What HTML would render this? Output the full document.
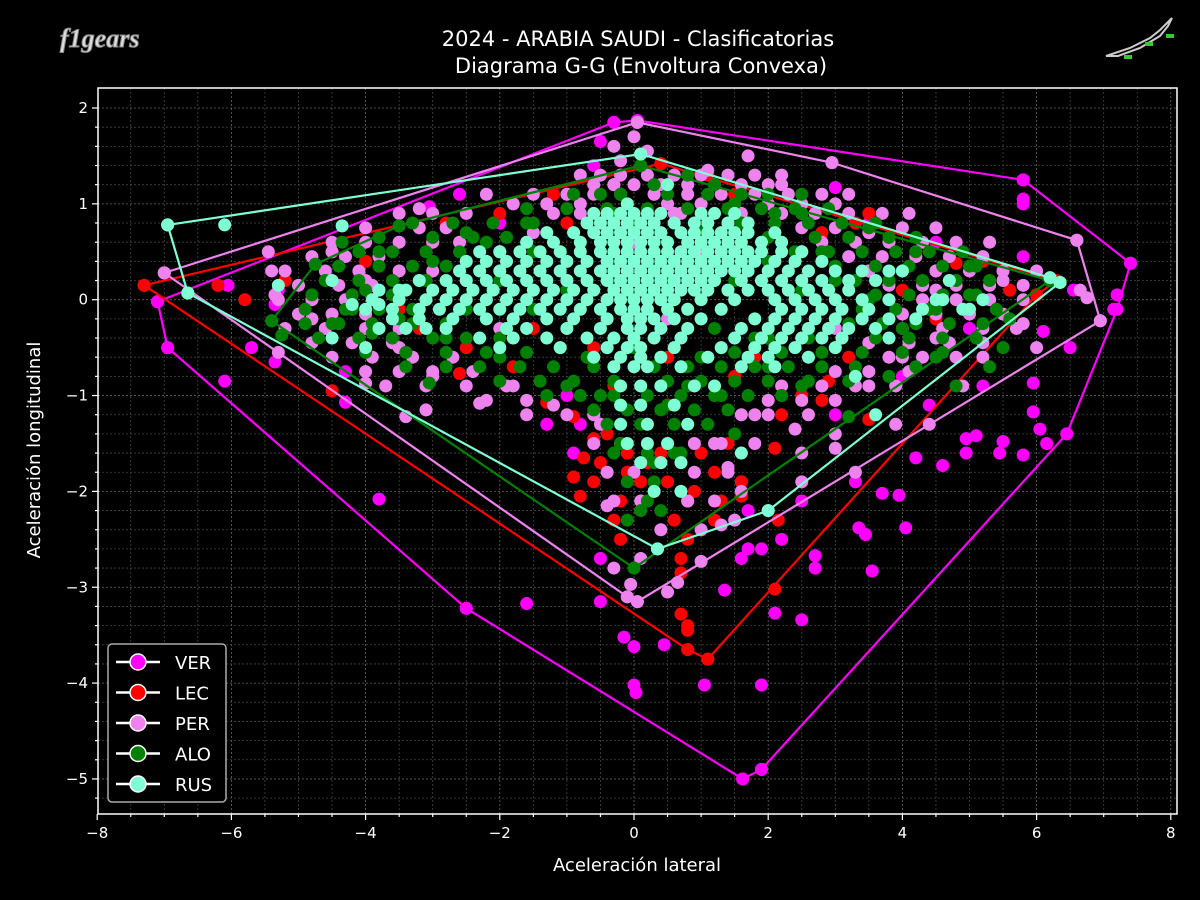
<!DOCTYPE html>
<html><head><meta charset="utf-8"><style>
body{margin:0;background:#000;}
svg{display:block;font-family:"DejaVu Sans","Liberation Sans",sans-serif;}
</style></head><body>
<svg id="chart" width="1200" height="900" viewBox="0 0 1200 900">
<rect width="1200" height="900" fill="#000"/>
<text x="638" y="46" fill="#fff" font-size="21" text-anchor="middle">2024 - ARABIA SAUDI - Clasificatorias</text>
<text x="641" y="73" fill="#fff" font-size="21" text-anchor="middle">Diagrama G-G (Envoltura Convexa)</text>
<text x="60" y="47" fill="#ddd" stroke="#888" stroke-width="1" font-size="26" font-style="italic" font-weight="bold" font-family="Liberation Serif,serif">f1gears</text>
<g><path d="M1106,56 L1130,48 L1150,38 L1160,30 L1168,22 L1172,18 L1168,26 L1160,36 L1140,48 L1118,56 Z" fill="none" stroke="#ccc" stroke-width="2"/><rect x="1124" y="55" width="8" height="4" fill="#3c3"/><rect x="1145" y="42" width="8" height="4" fill="#3c3"/><rect x="1166" y="34" width="8" height="4" fill="#3c3"/></g>
<g id="grid"></g>
<g id="marks"></g>
<g id="axes"></g>
<text x="637" y="871" fill="#fff" font-size="18" text-anchor="middle">Aceleración lateral</text>
<text x="40" y="450" fill="#fff" font-size="18" text-anchor="middle" transform="rotate(-90 40 450)">Aceleración longitudinal</text>
<g id="legend"></g>
</svg>
<script>
const drivers=["VER","LEC","PER","ALO","RUS"];
const colors=["#ff00ff","#ff0000","#ee82ee","#008000","#7fffd4"];
const xTicks=[-8,-6,-4,-2,0,2,4,6,8];
const yTicks=[2,1,0,-1,-2,-3,-4,-5];
const ptsVER=[[-3.8,-2.08],[-1.6,-3.17],[-0.5,-3.15],[-0.15,-3.52],[0,-3.62],[0,-4.02],[0.03,-4.1],[0.45,-3.6],[1.05,-4.02],[1.35,-3.03],[1.9,-4.02],[2.1,-3.27],[2.5,-3.34],[2.7,-2.67],[3.35,-2.38],[3.45,-2.45],[3.55,-2.83],[3.7,-2.02],[3.95,-2.04],[4.05,-2.38],[4.2,-1.65],[4.6,-1.73],[4.95,-1.6],[4.95,-1.45],[5.1,-1.42],[5.45,-1.6],[5.5,-1.48],[5.8,-1.62],[5.95,-1.17],[6.05,-1.35],[6.15,-1.5],[5.95,-0.87],[6.5,-0.5],[6.55,0.1],[6.1,-0.33],[5.8,1.0],[5.8,1.05],[5.8,0.45],[7.2,0.05],[7.15,-0.1],[3.0,1.17],[2.5,0.9],[-0.3,1.85],[-0.5,1.65],[-6.1,-0.85],[-6.2,0.15],[-6.05,0.15],[-5.7,-0.5],[-5.35,-0.65],[-4.3,-1.07],[-5.35,0.05],[-5.35,-0.05],[-5.3,0.1],[-4.3,-0.75],[-3.05,0.97],[-2.6,1.1],[2.7,-2.8],[3.3,-1.9],[5.2,-0.9],[4.4,-1.1],[2.5,-2.1],[1.7,-2.6],[1.6,-2.7],[1.9,-2.6],[-0.5,-2.7],[1.62,-5.0],[1.9,-4.9],[-2.5,-3.22],[-6.95,-0.5],[-7.1,-0.02],[6.45,-1.4],[7.4,0.38],[5.8,1.25],[0.05,1.87],[-0.8,-1.3],[-1,-1.0],[3,-1.2],[4,-0.8],[5,-0.3],[5.5,0.3],[4.5,0.6],[3.5,0.8],[-4.5,0.5],[-3.5,0.6],[-2,0.8],[-0.6,1.4],[-0.2,1.3],[0.6,1.3],[-1.3,-1.3],[-0.9,-1.6],[1.6,-1.9],[1.7,-2.2],[2.2,-2.5]];
const ptsLEC=[[-5.8,0.0],[-4.5,-0.95],[-2.6,-0.77],[-1.3,-1.07],[-0.9,-1.22],[-0.9,-1.85],[-0.8,-2.05],[-0.75,-1.65],[-0.6,-1.45],[-0.3,-2.3],[0.7,-2.7],[0.7,-2.85],[0.8,-3.4],[0.8,-3.45],[0.7,-3.28],[1.1,-3.75],[0.8,-3.65],[1.2,-2.3],[1.6,-1.9],[1.6,-2.05],[2.1,-1.55],[2.1,-3.02],[2.15,-2.3],[2.2,-1.2],[2.8,-1.05],[3.5,-1.25],[2.9,-0.85],[-0.2,-1.5],[-0.1,-1.8],[0.1,-1.9],[0.3,-2.0],[0.2,-1.3],[0.5,-1.1],[-0.3,-0.9],[-6.2,0.15],[-7.3,0.15],[-2.8,0.8],[-3.8,0.35],[4.8,0.38],[5.6,0.1],[6.0,0.05],[4.0,0.1],[3.3,0.8],[3.5,0.9],[1.1,1.3],[0.4,1.42],[-1.2,1.1],[-0.6,-0.5],[0.5,-0.6],[1.5,-0.8],[-2.5,-0.5],[-3.5,-0.1],[-0.5,-1.7],[0.4,-1.6],[-0.2,-2.1],[0.6,-2.3],[1.4,-1.5],[-1.5,-0.3],[2.5,-0.4],[-4,0.4],[-3,0.6],[-2,0.9],[-0.4,-1.4],[-0.1,-1.6],[0.2,-1.7],[0.5,-1.9],[0.9,-2.0],[1.0,-1.6],[1.2,-1.8],[-0.6,-1.9],[-0.2,-2.5],[0.1,-2.2],[1.3,-2.1],[0.8,-2.5],[-1.0,0.8],[1.5,1.1],[2.2,0.9],[2.8,0.7],[4.2,0.5],[5.2,0.4],[-4.5,0.5],[-5.2,0.2],[-3.2,-0.3],[-1.8,-0.7],[1.8,-0.6],[2.5,-1.0],[3.2,-0.6],[4.5,-0.2]];
const ptsPER=[[-7,0.28],[-5.45,0.5],[-5.4,0.3],[-5.35,0.05],[-5.3,-0.55],[-4,-0.87],[-3.4,-1.22],[-3.1,-1.15],[-2.3,-1.08],[-1.8,-0.9],[-1.2,-1.1],[-0.4,-2.15],[-0.3,-2.8],[-0.1,-3.1],[0.05,-3.15],[-0.05,-2.97],[0.1,-2.7],[0.5,-3.05],[0.65,-2.95],[1.0,-2.73],[1.0,-2.4],[1.3,-2.35],[1.5,-2.3],[1.4,-1.75],[2.5,-1.9],[2.4,-1.35],[2.5,-1.6],[3.0,-1.4],[3.0,-1.55],[3.3,-1.8],[3.9,-1.3],[4.4,-1.3],[4.9,-0.9],[5.2,-0.6],[6.0,-0.5],[5.8,-0.25],[6.75,0.02],[6.65,0.1],[6.95,-0.22],[6.6,0.62],[2.95,1.43],[1.7,1.5],[0.05,1.85],[-0.3,1.6],[0,1.7],[0.2,1.55],[-0.2,1.45],[1.1,1.35],[2.2,1.2],[-1.5,1.1],[-3.2,0.95],[-4.5,0.5],[-2,0.5],[0,0.6],[1,0.5],[2.5,0.5],[3.5,0.3],[4.5,0.3],[-1,0.2],[0.5,-0.2],[-3,0.3],[2,-0.4],[-2,-0.3],[4,-0.6],[1.8,-1.2],[1.2,-1.5],[-0.5,-1.3],[-0.3,1.2],[0.3,1.1],[1.5,0.9],[2.5,0.9],[3.5,0.7],[4.5,0.1],[5.5,0.2],[-4,0.2],[-3.5,-0.5],[-2.5,0.2],[-1.5,0.7],[-0.8,0.9],[0.6,0.9],[3,-0.3],[3.5,-0.9],[4.5,-0.4],[-4.8,-0.2],[-3,-0.8],[0.4,-2.4],[0.8,-2.1],[1.6,-2.0]];
const ptsALO=[[-5.4,-0.22],[-5.25,-0.37],[-4.75,0.37],[-4.5,-0.25],[-4.35,0.6],[-3.5,0.77],[-3.05,-0.87],[-3.9,-0.35],[-2.5,0.7],[-1.5,0.8],[-0.5,1.1],[0.1,1.4],[0.8,1.3],[1.5,1.0],[2.1,0.9],[2.5,0.9],[3.5,0.75],[4.2,0.5],[5.0,0.35],[6.2,0.2],[5.6,-0.2],[5.3,-0.7],[5.5,-0.5],[4.8,-0.9],[3.2,-1.22],[2.2,-1.0],[1.5,-1.4],[0.7,-1.6],[0.3,-1.7],[0,-2.8],[-0.1,-2.3],[0.2,-2.1],[-0.5,-1.0],[-1,-0.9],[-2,-0.6],[-2.8,-0.4],[-3.5,-0.2],[-4,0.1],[-2,0.2],[-1,0.1],[0.5,0.2],[1.5,0.2],[2.5,0.1],[3.5,0],[4.5,-0.1],[3,-0.5],[2,-0.7],[1,-0.6],[0,-0.5],[-1,-0.3],[-3,0.4],[-1.5,0.5],[0,0.8],[1,0.7],[2.8,0.5],[4,0.3],[3.8,-0.8],[0.5,-1.1],[-0.2,-1.5],[1.2,-0.3],[-0.7,-0.6],[5,0.05],[0.3,1.2],[1.2,1.2],[-0.3,0.9],[2,0.4],[3,0.2],[4,-0.3],[2.5,-0.9],[1.8,-0.4],[-1.5,-0.1],[-2.5,-0.1],[-4.2,-0.1],[-3.8,0.5],[-2.2,0.6],[0.8,-0.9],[1.3,-1.0],[4.5,-0.6]];
const ptsRUS=[[-6.95,0.78],[-6.65,0.07],[-6.1,0.78],[-4.35,0.77],[-5.3,0.15],[-4.5,-0.4],[-4.0,-0.5],[-4.2,-0.05],[-3.8,-0.05],[-3.5,0.1],[0.1,1.52],[0.35,-2.6],[2,-2.2],[6.35,0.18],[1.6,-1.6],[3.6,-1.2],[3.3,-0.8],[4.0,0.3],[4.5,0.0],[4.7,0.2],[5.2,0.0],[5.0,-0.1],[4.2,-0.2],[3.8,-0.4],[-4.5,0.2],[-3.8,-0.3],[0.5,1.2],[-0.1,1.0]];
// dense core rows: [y, [x values]]
const rowsPER=[[1.3,[-0.8,-0.5,-0.2,0.2,0.6,1.0,1.4,1.8,2.2]],[1.2,[-0.6,-0.3,0.0,0.4,0.8,1.2,1.6,2.0]],[1.1,[-2.2,-1.0,-0.6,-0.2,0.3,0.8,1.3,1.8,2.3,2.8,3.2]],[1.0,[-1.8,-1.3,-0.8,0.5,1.0,1.5,2.0,2.5,3.0]],[0.9,[-3.5,-3.0,-2.5,-1.2,0.7,1.6,2.2,2.7,3.2,3.7,4.1]],[0.75,[-4.0,-3.2,-2.8,2.5,3.0,3.5,4.0,4.5]],[0.6,[-4.5,-4.0,-3.5,-3.0,-2.6,2.8,3.3,3.8,4.3,4.8,5.3]],[0.45,[-4.8,-4.3,-3.8,3.2,3.7,4.2,4.7,5.2]],[0.3,[-5.2,-4.6,-4.1,-3.5,3.5,4.0,4.5,5.0,5.5,6.0]],[0.15,[-5.0,-4.4,-3.9,3.8,4.3,4.8,5.3,5.8]],[0.0,[-5.3,-4.8,-4.3,4.3,4.8,5.3,5.8]],[-0.15,[-5.0,-4.5,-4.0,4.0,4.5,5.0,5.5]],[-0.3,[-5.2,-4.6,-4.0,-3.5,4.0,4.6,5.2,5.7]],[-0.45,[-4.8,-4.2,-3.6,3.5,4.1,4.7,5.2]],[-0.6,[-4.5,-3.9,-3.3,-2.7,3.8,4.3,4.8]],[-0.75,[-4.0,-3.5,-3.0,-2.4,3.0,3.5,4.1]],[-0.9,[-3.7,-3.1,-2.5,-1.9,2.2,2.8,3.3,3.9]],[-1.05,[-2.2,-1.6,2.0,2.5,3.0]],[-1.2,[-1.6,-1.0,-0.6,1.6,2.0,2.6]],[-1.5,[-0.6,-0.2,0.9,1.3,1.8]],[-1.8,[-0.4,0.0,0.9,1.4]],[-2.1,[-0.3,0.1,0.8,1.2]]];
const rowsALO=[[1.1,[-0.9,-0.2,0.5,1.1,1.6,2.0,2.5]],[0.95,[-1.6,-1.0,-0.4,0.2,0.8,1.4,1.9,2.4,2.9]],[0.8,[-3.3,-2.7,-2.1,-1.6,1.6,2.1,2.6,3.1,3.6]],[0.65,[-3.8,-3.0,-2.4,-1.9,2.0,2.7,3.2,3.8,4.2]],[0.5,[-4.1,-3.6,-3.1,-2.6,2.4,2.9,3.4,3.9,4.4,4.9]],[0.35,[-4.4,-3.8,-3.3,-2.8,3.0,3.6,4.1,4.6,5.1]],[0.2,[-4.6,-4.1,-3.6,-3.1,3.3,3.8,4.3,4.8,5.3]],[0.05,[-4.8,-4.2,-3.6,3.6,4.1,4.6,5.1]],[-0.1,[-4.9,-4.3,-3.8,-3.3,3.4,3.9,4.4,4.9,5.4]],[-0.25,[-4.9,-4.4,-3.9,-3.3,-2.8,3.2,3.7,4.2,4.7,5.2]],[-0.4,[-4.7,-4.1,-3.6,-3.0,-2.5,-2.0,2.0,2.6,3.1,3.6,4.1,4.6,5.1]],[-0.55,[-4.0,-3.4,-2.8,-2.2,-1.6,1.5,2.2,2.8,3.4,4.0,4.6]],[-0.7,[-3.4,-2.8,-2.3,-1.7,-1.2,-0.6,0.3,0.8,1.3,1.8,2.3,2.8,3.3,4.2]],[-0.85,[-2.0,-1.4,-0.9,-0.3,0.5,1.0,1.5,2.0,2.6,3.2]],[-1.0,[-1.3,-0.8,-0.3,0.2,0.7,1.2,1.7,2.2]],[-1.15,[-0.6,-0.1,0.4,0.9,1.4]],[-1.3,[-0.4,0.1,0.6,1.1]],[-1.6,[-0.3,0.2,0.6]],[-1.9,[-0.1,0.3]],[-2.2,[0.1,0.4]]];
const rowsRUS=[[0.9,[-0.6,-0.4,-0.2,0.0,0.2,0.4,1.0,1.2,1.5]],[0.8,[-0.7,-0.5,-0.3,-0.1,0.1,0.3,0.6,0.9,1.1,1.4,1.7]],[0.7,[-1.3,-0.9,-0.6,-0.4,-0.2,0,0.2,0.4,0.7,0.9,1.1,1.3,1.5,1.7,2.1]],[0.6,[-1.6,-1.2,-0.8,-0.5,-0.3,-0.1,0.1,0.3,0.5,0.8,1.0,1.2,1.4,1.6,1.9,2.2]],[0.5,[-2.3,-2,-1.7,-1.4,-1.1,-0.8,-0.5,-0.3,-0.1,0.1,0.3,0.5,0.7,0.9,1.1,1.3,1.5,1.7,1.9,2.2,2.5]],[0.4,[-2.5,-2.2,-1.9,-1.6,-1.3,-1.0,-0.7,-0.4,-0.2,0,0.2,0.4,0.6,0.8,1.0,1.2,1.4,1.6,1.8,2.1,2.4,2.8]],[0.3,[-2.6,-2.3,-2,-1.7,-1.4,-1.1,-0.8,-0.5,-0.3,-0.1,0.1,0.3,0.5,0.7,0.9,1.1,1.3,1.5,1.7,2,2.3,2.6,3.0,3.4,3.8]],[0.2,[-3.2,-2.8,-2.5,-2.2,-1.9,-1.6,-1.3,-1.0,-0.7,-0.4,-0.2,0,0.2,0.4,0.6,0.8,1.0,1.2,1.6,1.9,2.2,2.5,2.8,3.2,3.6]],[0.1,[-3.8,-3.4,-3,-2.7,-2.4,-2.1,-1.8,-1.5,-1.2,-0.9,-0.6,-0.3,-0.1,0.1,0.3,0.5,0.7,0.9,1.1,1.4,1.7,2,2.3,2.6,2.9,3.2]],[0.0,[-3.9,-3.5,-3.1,-2.8,-2.5,-2.2,-1.9,-1.6,-1.3,-1.0,-0.7,-0.4,-0.2,0,0.2,0.4,0.6,1.0,1.5,2.1,2.4,2.7,3.0,3.4,3.8,4.6]],[-0.1,[-4,-3.6,-3.2,-2.9,-2.6,-2.3,-2,-1.7,-1.4,-1.1,-0.8,-0.5,-0.2,0,0.2,0.5,0.8,1.3,2.2,2.5,2.8,3.1,3.5,4.3,4.9]],[-0.2,[-3.6,-3.2,-2.7,-2.2,-1.8,-1.3,-0.9,-0.4,-0.1,0.1,0.3,0.6,1.0,1.8,2.1,2.4,2.7,3.0,3.4,3.8]],[-0.3,[-3.4,-3.1,-2.8,-1.9,-1.6,-1.0,-0.5,-0.1,0.1,0.4,0.8,1.6,2.0,2.3,2.6,2.9,3.2,3.6]],[-0.4,[-2.3,-1.8,-1.3,-0.7,-0.3,0,0.3,0.7,1.5,1.9,2.2,2.5,2.8,3.1]],[-0.5,[-2.0,-1.1,-0.4,-0.1,0.1,0.6,1.3,1.8,2.1,2.4,3.0]],[-0.6,[-0.6,-0.2,0.1,0.4,1.1,1.7,2.0,2.6]],[-0.7,[-0.3,0,0.2,0.7,1.6,2.1]],[-0.9,[-0.2,0.1,0.4,0.9,1.2]],[-1.1,[-0.2,0.1,0.6]],[-1.3,[-0.2,0.2,0.8]],[-1.5,[-0.1,0.2,0.5]],[-1.7,[0.1,0.4,0.7]],[-2.0,[0.3,0.7]]];
const hullVER=[[-7.1,-0.02],[-6.95,-0.5],[-2.5,-3.22],[1.62,-5.0],[1.9,-4.9],[6.45,-1.4],[7.2,-0.1],[7.4,0.38],[5.8,1.25],[0.05,1.87],[-0.3,1.85],[-7.1,-0.02]];
const hullLEC=[[-7.3,0.15],[0.8,-3.65],[1.1,-3.75],[6.0,0.05],[6.3,0.2],[0.4,1.42],[-7.3,0.15]];
const hullPER=[[-7,0.28],[-0.1,-3.1],[0.05,-3.15],[6.95,-0.22],[6.6,0.62],[2.95,1.43],[0.05,1.85],[-7,0.28]];
const hullALO=[[-5.4,-0.22],[-4.75,0.37],[-3.5,0.77],[0.1,1.4],[6.2,0.2],[0,-2.8],[-5.4,-0.22]];
const hullRUS=[[-6.95,0.78],[-6.65,0.07],[0.35,-2.6],[2,-2.2],[6.35,0.18],[6.2,0.23],[0.1,1.52],[-6.95,0.78]];
const rows=[[],[],rowsPER,rowsALO,rowsRUS];
const pts=[ptsVER,ptsLEC,ptsPER,ptsALO,ptsRUS];
const hulls=[hullVER,hullLEC,hullPER,hullALO,hullRUS];

const NS="http://www.w3.org/2000/svg";
const L=98,R=1177,T=88,B=814;
const sx=v=>634+v*67.1;
const sy=v=>299.7-v*95.85;
function mk(tag,attrs,parent){const e=document.createElementNS(NS,tag);for(const k in attrs)e.setAttribute(k,attrs[k]);parent.appendChild(e);return e;}
const grid=document.getElementById('grid');
for(let v=-8;v<=8.1;v+=0.5){const x=sx(v);if(x<L||x>R)continue;const g=mk('line',{x1:x,x2:x,y1:T,y2:B,stroke:Math.abs(v%2)<1e-6?'#666':'#444','stroke-width':0.8,'stroke-dasharray':'2,2'},grid);

}
for(let v=-5.4;v<=2.2;v+=0.2){const y=sy(v);if(y<T||y>B)continue;const g=mk('line',{x1:L,x2:R,y1:y,y2:y,stroke:Math.abs(Math.round(v)-v)<1e-6?'#666':'#444','stroke-width':0.8,'stroke-dasharray':'2,2'},grid);

}
const marks=document.getElementById('marks');
drivers.forEach((d,i)=>{
 const g=mk('g',{},marks);
 
 
 const all=pts[i].slice();
 rows[i].forEach(r=>r[1].forEach(x=>all.push([x,r[0]])));
 all.forEach(p=>{const c=mk('circle',{cx:sx(p[0]),cy:sy(p[1]),r:6.5,fill:colors[i]},g);
  
  });
 const pl=mk('polyline',{points:hulls[i].map(p=>sx(p[0])+','+sy(p[1])).join(' '),fill:'none',stroke:colors[i],'stroke-width':2.2},g);
 
 
 hulls[i].forEach(p=>{const c=mk('circle',{cx:sx(p[0]),cy:sy(p[1]),r:6.5,fill:colors[i]},g);
  
  });
});
const axes=document.getElementById('axes');
const fr=mk('rect',{x:L,y:T,width:R-L,height:B-T,fill:'none',stroke:'#fff','stroke-width':1.5},axes);


for(let v=-8;v<=8.1;v+=0.5){const x=sx(v);if(x>R)continue;const major=Math.abs(v%2)<1e-6;mk('line',{x1:x,x2:x,y1:B,y2:B+(major?6:3),stroke:'#fff','stroke-width':1.2},axes);}
xTicks.forEach(v=>{const t=mk('text',{x:sx(v),y:B+24,fill:'#fff','font-size':15,'text-anchor':'middle'},axes);t.textContent=(v<0?'\u2212'+(-v):v);
 
 });
for(let v=-5.2;v<=2.2;v+=0.2){const y=sy(v);if(y<T||y>B)continue;const major=Math.abs(Math.round(v)-v)<1e-6;mk('line',{x1:L,x2:L-(major?6:3),y1:y,y2:y,stroke:'#fff','stroke-width':1.2},axes);}
yTicks.forEach(v=>{const t=mk('text',{x:L-10,y:sy(v)+5,fill:'#fff','font-size':15,'text-anchor':'end'},axes);t.textContent=(v<0?'\u2212'+(-v):v);
 
 });
const lg=document.getElementById('legend');
mk('rect',{x:108,y:644,width:118,height:158,rx:4,fill:'#000',stroke:'#aaa','stroke-width':1.5},lg);
drivers.forEach((d,i)=>{const y=662+i*30.5;
 const e=mk('g',{},lg);
 
 
 mk('line',{x1:116,x2:160,y1:y,y2:y,stroke:'#fff','stroke-width':2.5},e);
 mk('circle',{cx:138,cy:y,r:8,fill:colors[i],stroke:'#fff','stroke-width':1.5},e);
 const t=mk('text',{x:175,y:y+7,fill:'#fff','font-size':18},e);t.textContent=d;});
</script>
</body></html>
